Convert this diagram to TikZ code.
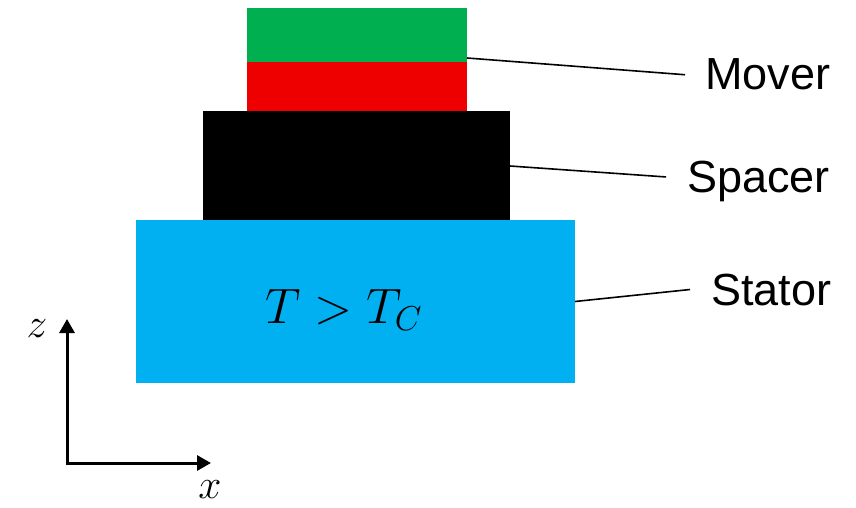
\documentclass[tikz,border=0pt]{standalone}
\usepackage{fontspec}
\setmainfont{Liberation Sans}
\usetikzlibrary{arrows.meta}
\definecolor{moverg}{HTML}{00B050}
\definecolor{moverr}{HTML}{EE0000}
\definecolor{statorb}{HTML}{00B0F0}
\begin{document}
\begin{tikzpicture}[x=0.5pt,y=-0.5pt,
  layer/.style={draw=none, inner sep=0, outer sep=0, anchor=north west},
  lbl/.style={font=\fontsize{22.5}{27}\selectfont, anchor=base west, inner sep=0},
  leader/.style={line width=0.8pt},
  axis/.style={line width=1.5pt, line join=miter, {Triangle[length=7pt,width=7.5pt]}-{Triangle[length=7pt,width=7.5pt]}},
  axlbl/.style={font=\fontsize{22.5}{27}\selectfont, inner sep=0}]
\useasboundingbox (0,0) rectangle (856,508);
% layers
\node[layer, fill=moverg, minimum width=110pt, minimum height=27pt] (mg) at (247,8) {};
\node[layer, fill=moverr, minimum width=110pt, minimum height=24.5pt] (mr) at (247,62) {};
\node[layer, fill=black, minimum width=153.5pt, minimum height=55pt] (blk) at (203,111) {};
\node[layer, fill=statorb, minimum width=219.5pt, minimum height=81.5pt] (blue) at (136,220) {};
\node[anchor=base west, inner sep=0, font=\fontsize{26.5}{30}\selectfont] (temp) at (265,323) {$T > T_C$};
% labels
\node[lbl] (mover) at (705,90) {Mover};
\node[lbl] (spacer) at (687,192) {Spacer};
\node[lbl] (stator) at (711,305) {Stator};
% leaders
\draw[leader] ([yshift=2pt]mg.south east) -- ([xshift=-10pt]mover.west);
\draw[leader] (blk.east) -- ([xshift=-10.5pt,yshift=2pt]spacer.west);
\draw[leader] (blue.east) -- ([xshift=-10.5pt]stator.west);
% axes
\coordinate (o) at (67,463);
\coordinate (ztip) at (67,319);
\coordinate (xtip) at (211,463);
\draw[axis] (ztip) -- (o) -- (xtip);
\node[axlbl] (zl) at (37,329) {$z$};
\node[axlbl] (xl) at (210,490) {$x$};
\end{tikzpicture}
\end{document}
